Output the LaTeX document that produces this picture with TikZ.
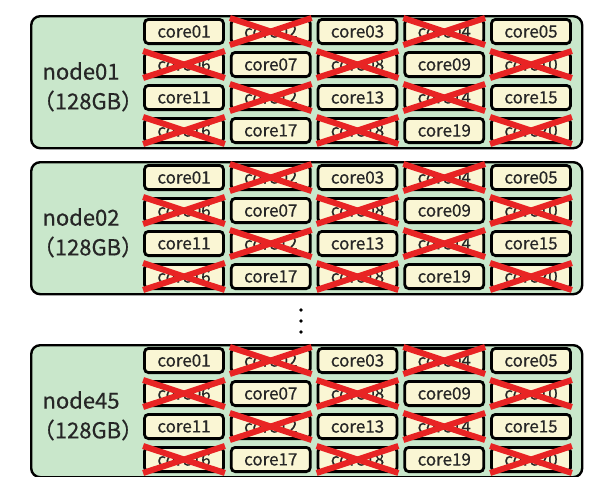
\documentclass[tikz,border=0pt]{standalone}
\usepackage{fontspec}
\newfontfamily\gothic[FakeBold=0.5]{Noto Sans CJK JP}
\definecolor{nodegreen}{HTML}{C9E7CB}
\definecolor{coreyellow}{HTML}{FAF6D4}
\definecolor{xred}{HTML}{E82424}
\begin{document}
\begin{tikzpicture}[x=1pt,y=-1pt,
  machine/.style={draw=black, line width=2.4pt, fill=nodegreen, rounded corners=9pt,
    minimum width=551pt, minimum height=132pt, anchor=north west, inner sep=0pt},
  corebox/.style={draw=black, line width=2.8pt, fill=coreyellow, rounded corners=4pt,
    minimum width=79pt, minimum height=24.2pt, inner sep=0pt,
    font=\gothic\fontsize{17}{17}\selectfont, text=black!85},
  xline/.style={draw=xred, line width=6pt},
  hostlabel/.style={font=\gothic\fontsize{22}{22}\selectfont, inner sep=0pt, text=black!85},
  dot/.style={fill=black, circle, inner sep=0pt, minimum size=3.8pt}]
\useasboundingbox (0,0) rectangle (598,477);
\fill[white] (0,0) rectangle (598,477);

% three compute nodes, each with 20 cores (even-numbered cores disabled)
\foreach \name/\top in {01/15, 02/161, 45/344} {
  \node[machine] (m\name) at (30,\top) {};
  \node[hostlabel] (m\name-name) at (81,\top+56) {node\name};
  \node[hostlabel] (m\name-mem) at (88,\top+86) {（128GB）};
  \foreach \r in {0,...,3} {
    \foreach \c in {0,...,4} {
      \pgfmathtruncatemacro\k{5*\r+\c+1}
      \edef\lbl{\ifnum\k<10 0\fi\k}
      \node[corebox] (m\name-c\lbl) at (184+86.75*\c, \top+16.5+33*\r) {core\lbl};
      \ifodd\k\else
        \draw[xline] (m\name-c\lbl.north west) -- (m\name-c\lbl.south east);
        \draw[xline] (m\name-c\lbl.south west) -- (m\name-c\lbl.north east);
      \fi
    }
  }
}

% vertical ellipsis between node02 and node45
\node[dot] (gap1) at (301,310) {};
\node[dot] (gap2) at (301,321) {};
\node[dot] (gap3) at (301,332) {};
\end{tikzpicture}
\end{document}
